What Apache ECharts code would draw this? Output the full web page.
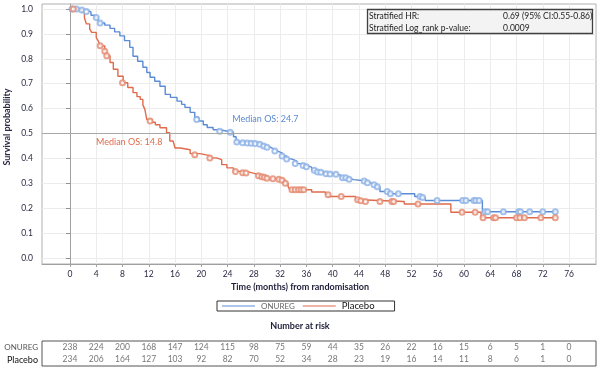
<!DOCTYPE html>
<html><head><meta charset="utf-8">
<script src="https://cdn.jsdelivr.net/npm/echarts@6/dist/echarts.min.js"></script>
<style>html,body{margin:0;padding:0;background:#fff}#c{width:601px;height:370px}</style>
</head><body><div id="c"></div>
<script>
// ---- data ----
const xTicks = [0,4,8,12,16,20,24,28,32,36,40,44,48,52,56,60,64,68,72,76];
const yTicks = [0,0.1,0.2,0.3,0.4,0.5,0.6,0.7,0.8,0.9,1.0];
const groups = ['ONUREG','Placebo'];
const onuregCurve = [
 [0,1.0],[1.5,0.996],[2.5,0.988],[3.2,0.975],[3.8,0.966],[4.3,0.953],[4.6,0.944],[5.3,0.935],
 [6.1,0.922],[6.8,0.908],[7.6,0.892],[8.3,0.873],[9.1,0.846],[9.6,0.81],[10.3,0.79],[11.1,0.766],
 [11.7,0.745],[12.2,0.726],[12.9,0.71],[13.7,0.69],[14.5,0.657],[15.3,0.645],[16.3,0.63],[17.0,0.617],
 [17.5,0.605],[18.3,0.585],[19.0,0.565],[19.6,0.55],[20.3,0.535],[20.9,0.524],[21.8,0.515],[22.8,0.509],
 [24.0,0.505],[24.9,0.487],[25.3,0.466],[26.3,0.463],[28.3,0.458],[29.2,0.45],[30.0,0.445],[30.5,0.438],
 [31.0,0.43],[31.5,0.422],[32.3,0.41],[33.0,0.398],[33.7,0.39],[34.5,0.379],[35.2,0.372],[36.0,0.365],
 [36.8,0.352],[37.7,0.344],[39.0,0.337],[40.6,0.333],[41.2,0.322],[42.4,0.315],[43.2,0.309],[45.2,0.301],
 [45.9,0.294],[46.7,0.285],[47.2,0.267],[48.5,0.258],[52.5,0.247],[53.5,0.241],[54.1,0.231],[62.8,0.186],
 [74.0,0.186]
];
const placeboCurve = [
 [0,1.0],[0.8,0.997],[1.8,0.987],[2.2,0.965],[2.5,0.94],[3.0,0.92],[3.3,0.906],[4.0,0.885],[4.3,0.872],
 [4.6,0.852],[5.3,0.83],[5.6,0.812],[6.1,0.785],[6.6,0.758],[7.3,0.73],[8.1,0.704],[8.8,0.685],
 [9.6,0.664],[10.2,0.648],[10.7,0.637],[11.1,0.615],[11.4,0.597],[11.7,0.556],[12.5,0.545],[13.0,0.535],
 [13.7,0.523],[14.7,0.503],[15.2,0.47],[15.7,0.462],[16.0,0.442],[16.8,0.435],[18.3,0.419],[19.8,0.411],
 [21.3,0.402],[22.3,0.395],[23.1,0.375],[23.9,0.362],[24.9,0.348],[26.9,0.341],[27.9,0.335],[28.9,0.328],
 [30.0,0.318],[32.0,0.315],[32.7,0.301],[33.2,0.288],[33.5,0.274],[36.8,0.265],[38.9,0.256],[39.3,0.247],
 [43.5,0.234],[44.2,0.227],[50.9,0.217],[58.0,0.184],[62.6,0.162],[74.0,0.162]
];
const onuregCensor = [
 [0.3,1.0],[1.0,1.0],[1.8,0.996],[2.5,0.99],[4.0,0.966],[4.6,0.944],[19.3,0.556],[22.8,0.509],[24.4,0.505],
 [25.4,0.466],[26.3,0.463],[27.0,0.462],[27.6,0.461],[28.2,0.46],[28.9,0.457],[29.5,0.45],[30.0,0.445],
 [31.2,0.43],[32.3,0.41],[33.0,0.398],[34.3,0.38],[35.5,0.372],[36.0,0.366],[37.2,0.352],[37.7,0.345],
 [38.2,0.344],[39.0,0.338],[39.6,0.337],[40.5,0.336],[41.5,0.322],[42.0,0.322],[42.5,0.316],[44.8,0.309],
 [45.3,0.302],[46.3,0.294],[46.8,0.286],[48.3,0.267],[48.8,0.258],[50.0,0.258],[53.3,0.247],[53.7,0.243],
 [55.9,0.231],[59.8,0.231],[60.3,0.231],[61.5,0.231],[61.8,0.231],[62.3,0.231],[63.2,0.186],[63.6,0.186],
 [66.0,0.186],[68.3,0.186],[68.6,0.186],[70.0,0.186],[72.0,0.186],[73.9,0.186]
];
const placeboCensor = [
 [0.5,1.0],[4.6,0.852],[5.3,0.83],[5.6,0.812],[8.0,0.704],[12.2,0.55],[19.0,0.415],[21.3,0.402],
 [25.2,0.347],[26.3,0.342],[26.8,0.341],[28.7,0.33],[29.2,0.326],[29.6,0.324],[30.0,0.32],[30.9,0.318],
 [31.8,0.316],[32.3,0.312],[32.8,0.3],[33.8,0.274],[34.3,0.274],[34.8,0.274],[35.2,0.274],[35.6,0.274],
 [39.3,0.254],[41.3,0.247],[43.8,0.234],[44.3,0.23],[45.0,0.227],[47.2,0.227],[49.0,0.227],[49.3,0.227],
 [53.0,0.217],[59.7,0.184],[61.7,0.184],[62.9,0.162],[64.5,0.162],[64.8,0.162],[68.0,0.162],[68.5,0.162],
 [69.2,0.162],[71.7,0.162],[73.9,0.162]
];
const riskOnureg = [238,224,200,168,147,124,115,98,75,59,44,35,26,22,16,15,6,5,1,0];
const riskPlacebo = [234,206,164,127,103,92,82,70,52,34,28,23,19,16,14,11,8,6,1,0];
const medianOnureg = 24.7;
const medianPlacebo = 14.8;
const statLabels = ['Stratified HR:','Stratified Log_rank p-value:'];
const statValues = ['0.69 (95% CI:0.55-0.86)','0.0009'];

// ---- chart ----
const FONT = 'Lato';
const BLUE = '#5b8bd5', RED = '#e06b4c';
const BLUE_C = '#8cb2e5', RED_C = '#e48a70';
const XMIN = -4.26, XMAX = 80.1;
const chart = echarts.init(document.getElementById('c'), null, {renderer:'canvas'});

const riskData = [];
xTicks.forEach((t,i)=>{
  riskData.push([t,'ONUREG',riskOnureg[i]]);
  riskData.push([t,'Placebo',riskPlacebo[i]]);
});
const lineIcon = 'path://M0,0H33V1H0Z';

chart.setOption({
  animation:false,
  textStyle:{fontFamily:FONT},
  grid:[
    {left:42,right:5,top:4,bottom:106,show:true,borderColor:'#b0b0b0',borderWidth:1},
    {left:42,right:5,top:341,height:25,show:true,borderColor:'#555',borderWidth:1}
  ],
  xAxis:[
    {gridIndex:0,type:'value',min:XMIN,max:XMAX,
     axisLine:{show:true,onZero:false,lineStyle:{color:'#a0a0a0'}},
     axisTick:{show:true,length:3,customValues:xTicks,lineStyle:{color:'#a0a0a0'}},
     axisLabel:{customValues:xTicks,fontSize:8.5,color:'#2a2a44',margin:6,fontFamily:FONT},
     splitLine:{show:true,lineStyle:{color:'#ececec'}}},
    {gridIndex:1,type:'value',min:XMIN,max:XMAX,show:false}
  ],
  yAxis:[
    {gridIndex:0,type:'value',min:-0.024,max:1.02,
     axisLine:{show:true,lineStyle:{color:'#a0a0a0'}},
     axisTick:{show:true,length:4,customValues:yTicks,lineStyle:{color:'#909090'}},
     axisLabel:{customValues:yTicks,fontSize:8.5,color:'#2a2a44',margin:9,fontFamily:FONT,
       formatter:v=>v.toFixed(1)},
     splitLine:{show:true,lineStyle:{color:'#ececec'}}},
    {gridIndex:1,type:'category',data:['Placebo','ONUREG'],
     axisLine:{show:false},axisTick:{show:false},splitLine:{show:false},
     axisLabel:{show:true,interval:0,hideOverlap:false,margin:4,fontFamily:FONT,
       formatter:v=> v==='ONUREG' ? '{a|'+v+'}' : '{b|'+v+'}',
       rich:{a:{fontSize:8,color:'#555',fontFamily:FONT},b:{fontSize:9,color:'#111',fontFamily:FONT}}}}
  ],
  legend:{
    left:217,top:301,
    data:[{name:groups[0],icon:lineIcon,textStyle:{fontSize:8,color:'#666'}},
          {name:groups[1],icon:lineIcon,textStyle:{fontSize:9.5,color:'#111'}}],
    itemWidth:33,itemHeight:1,itemGap:8,
    itemStyle:{borderWidth:0},
    borderColor:'#333',borderWidth:1,padding:[0,20,0,5],
    textStyle:{fontFamily:FONT,padding:[0,0,0,1]}
  },
  series:[
    {name:groups[0],type:'line',step:'end',data:onuregCurve,showSymbol:false,symbol:'none',
     xAxisIndex:0,yAxisIndex:0,lineStyle:{color:BLUE,width:1.4},itemStyle:{color:BLUE},z:3,
     markLine:{silent:true,symbol:['none','none'],label:{show:false},
       lineStyle:{color:'#a8a8a8',type:'solid',width:1},data:[{yAxis:0.5}]},
     markPoint:{symbol:'circle',symbolSize:0,
       data:[{coord:[medianOnureg,0.556],value:medianOnureg}],
       label:{show:true,position:'right',distance:0,formatter:'Median OS: '+medianOnureg,
         color:BLUE,fontSize:9,fontFamily:FONT}}},
    {name:groups[1],type:'line',step:'end',data:placeboCurve,showSymbol:false,symbol:'none',
     xAxisIndex:0,yAxisIndex:0,lineStyle:{color:RED,width:1.4},itemStyle:{color:RED},z:3,
     markPoint:{symbol:'circle',symbolSize:0,
       data:[{coord:[3.96,0.464],value:medianPlacebo}],
       label:{show:true,position:'right',distance:0,formatter:'Median OS: '+medianPlacebo,
         color:RED,fontSize:9,fontFamily:FONT}}},
    {name:'onuregCensor',type:'scatter',data:onuregCensor,symbol:'emptyCircle',symbolSize:5,
     xAxisIndex:0,yAxisIndex:0,itemStyle:{color:BLUE_C,borderColor:BLUE_C,borderWidth:1},z:4},
    {name:'placeboCensor',type:'scatter',data:placeboCensor,symbol:'emptyCircle',symbolSize:5,
     xAxisIndex:0,yAxisIndex:0,itemStyle:{color:RED_C,borderColor:RED_C,borderWidth:1},z:4},
    {name:'risk',type:'scatter',data:riskData,xAxisIndex:1,yAxisIndex:1,symbolSize:0,
     label:{show:true,position:'inside',formatter:p=>String(p.value[2]),
       fontSize:8.5,color:'#555',fontFamily:FONT}}
  ],
  graphic:[
    {type:'text',x:7,y:127,rotation:Math.PI/2,
     style:{text:'Survival probability',font:'bold 9px '+FONT,fill:'#2a2a44',align:'center',verticalAlign:'middle'}},
    {type:'text',x:300,y:287,
     style:{text:'Time (months) from randomisation',font:'bold 9px '+FONT,fill:'#1e1e3a',align:'center',verticalAlign:'middle'}},
    {type:'text',x:300,y:326,
     style:{text:'Number at risk',font:'bold 9px '+FONT,fill:'#1e1e3a',align:'center',verticalAlign:'middle'}},
    {type:'rect',shape:{x:367.5,y:9.5,width:225,height:24},z:10,
     style:{fill:'#f3f3f3',stroke:'#404040',lineWidth:1.3}},
    {type:'text',x:369,y:16,z:11,style:{text:statLabels[0],font:'8.5px '+FONT,fill:'#222',verticalAlign:'middle'}},
    {type:'text',x:369,y:28,z:11,style:{text:statLabels[1],font:'8.5px '+FONT,fill:'#222',verticalAlign:'middle'}},
    {type:'text',x:503,y:16,z:11,style:{text:statValues[0],font:'8.5px '+FONT,fill:'#222',verticalAlign:'middle'}},
    {type:'text',x:503,y:28,z:11,style:{text:statValues[1],font:'8.5px '+FONT,fill:'#222',verticalAlign:'middle'}}
  ]
});
</script></body></html>
